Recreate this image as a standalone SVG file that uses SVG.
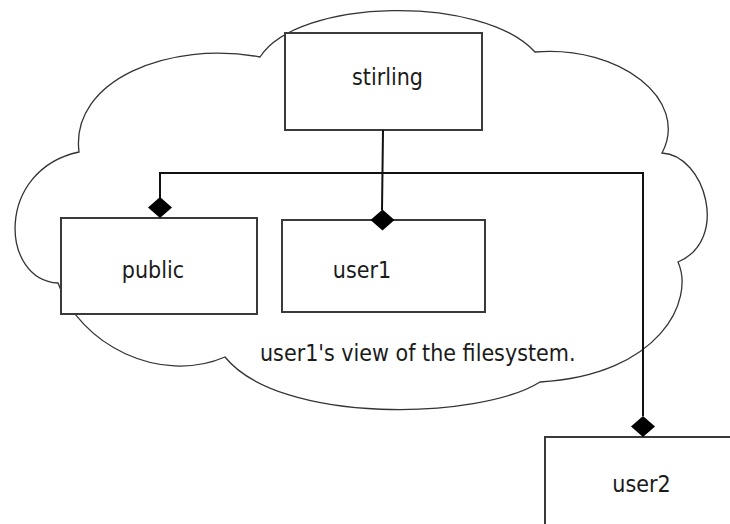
<svg xmlns="http://www.w3.org/2000/svg" xmlns:xlink="http://www.w3.org/1999/xlink" width="730" height="524" viewBox="0 0 730 524">
  <style>
    .cloud { fill: none; stroke: #333333; stroke-width: 1.3; }
    .box { fill: #ffffff; stroke: #3a3a3a; stroke-width: 2; }
    .conn { fill: none; stroke: #111111; stroke-width: 2; }
    .lbl { font-family: "DejaVu Sans Condensed", "DejaVu Sans", sans-serif; font-stretch: condensed; font-size: 23px; fill: #1a1a1a; }
    .dia { fill: #000000; stroke: none; }
  </style>
  <defs>
    <path id="dia" class="dia" d="M0,-10.5 L12,0 L0,10.5 L-12,0 Z"/>
  </defs>
  <rect width="730" height="524" fill="#ffffff"/>
  <g id="cloud">
    <path class="cloud" d="M260,57 C298,-2 482,-6 535,52 C620,45 690,100 662,153 C705,155 730,240 678,262 C695,300 660,375 540,382 C480,420 280,425 225,357 C160,385 80,345 58,283 C0,280 -5,170 79,152 C70,80 170,40 260,57 Z"/>
    <text class="lbl" x="260" y="361">user1's view of the filesystem.</text>
  </g>
  <g id="stirling">
    <rect class="box" x="285" y="33" width="197" height="97"/>
    <text class="lbl" x="387.5" y="85" text-anchor="middle">stirling</text>
  </g>
  <g id="public">
    <rect class="box" x="61" y="218" width="196" height="96"/>
    <text class="lbl" x="153" y="278" text-anchor="middle">public</text>
  </g>
  <g id="user1">
    <rect class="box" x="282" y="220" width="203" height="92"/>
    <text class="lbl" x="362" y="278" text-anchor="middle">user1</text>
  </g>
  <g id="user2">
    <rect class="box" x="545" y="437" width="200" height="100"/>
    <text class="lbl" x="641.5" y="492" text-anchor="middle">user2</text>
  </g>
  <g id="connectors">
    <polyline class="conn" points="383,130 382,210"/>
    <polyline class="conn" points="160,198 160,173 643,173 643,416"/>
    <use xlink:href="#dia" x="382.5" y="220"/>
    <use xlink:href="#dia" x="160" y="207.5"/>
    <use xlink:href="#dia" x="643" y="426.5"/>
  </g>
</svg>
